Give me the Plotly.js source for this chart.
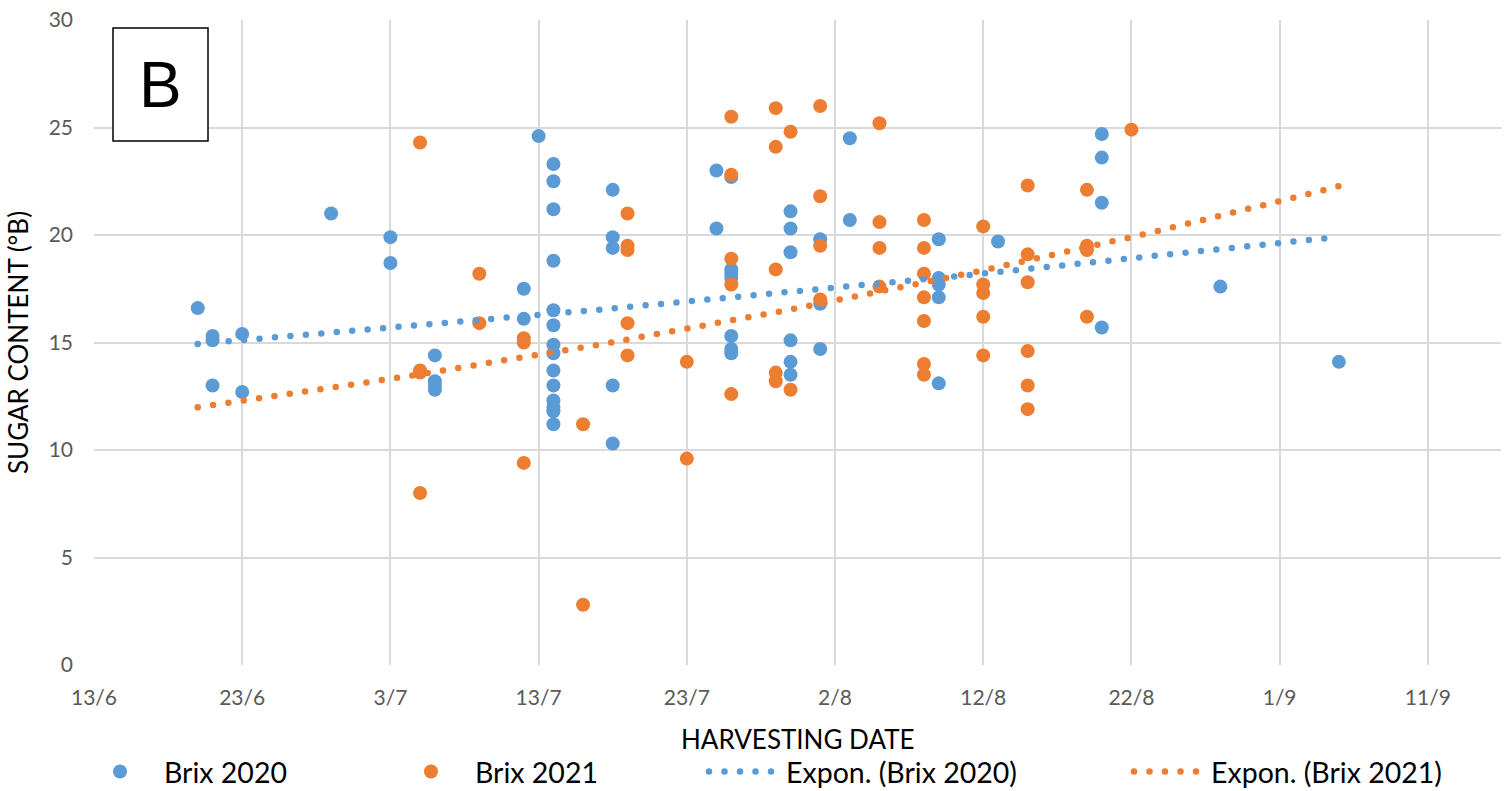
<!DOCTYPE html>
<html><head><meta charset="utf-8">
<script src="https://cdn.plot.ly/plotly-3.0.1.min.js"></script>
<style>
html,body{margin:0;padding:0;background:#fff;}
#chart{width:1512px;height:791px;}
path.js-line{stroke-linecap:round;}
</style></head><body><div id="chart"></div>
<script>
// Harvest dates (day/month) and sugar content (°Brix)
const dates2020 = ['20/6','21/6','21/6','21/6','23/6','23/6','29/6','3/7','3/7',
  '6/7','6/7','6/7','6/7','12/7','12/7','13/7',
  '14/7','14/7','14/7','14/7','14/7','14/7','14/7','14/7','14/7','14/7','14/7','14/7','14/7','14/7',
  '18/7','18/7','18/7','18/7','18/7','25/7','25/7',
  '26/7','26/7','26/7','26/7','26/7','26/7','26/7',
  '30/7','30/7','30/7','30/7','30/7','30/7','1/8','1/8','1/8','3/8','3/8',
  '9/8','9/8','9/8','9/8','9/8','13/8','20/8','20/8','20/8','20/8','28/8','5/9'];
const brix2020 = [16.6,15.3,15.1,13.0,15.4,12.7,21.0,19.9,18.7,
  14.4,13.2,13.0,12.8,17.5,16.1,24.6,
  23.3,22.5,21.2,18.8,16.5,15.8,14.9,14.5,13.7,13.0,12.3,12.0,11.8,11.2,
  22.1,19.9,19.4,13.0,10.3,23.0,20.3,
  22.7,18.4,18.2,18.0,15.3,14.7,14.5,
  21.1,20.3,19.2,15.1,14.1,13.5,19.8,16.8,14.7,24.5,20.7,
  19.8,18.0,17.7,17.1,13.1,19.7,24.7,23.6,21.5,15.7,17.6,14.1];

const dates2021 = ['5/7','5/7','5/7','5/7','9/7','9/7','12/7','12/7','12/7','16/7','16/7',
  '19/7','19/7','19/7','19/7','19/7','23/7','23/7',
  '26/7','26/7','26/7','26/7','26/7','29/7','29/7','29/7','29/7','29/7','30/7','30/7',
  '1/8','1/8','1/8','1/8','5/8','5/8','5/8','5/8',
  '8/8','8/8','8/8','8/8','8/8','8/8','8/8','12/8','12/8','12/8','12/8','12/8',
  '15/8','15/8','15/8','15/8','15/8','15/8','19/8','19/8','19/8','19/8','22/8'];
const brix2021 = [24.3,13.7,13.6,8.0,18.2,15.9,15.2,15.0,9.4,11.2,2.8,
  21.0,19.5,19.3,15.9,14.4,14.1,9.6,
  25.5,22.8,18.9,17.7,12.6,25.9,24.1,18.4,13.6,13.2,24.8,12.8,
  26.0,21.8,19.5,17.0,25.2,20.6,19.4,17.6,
  20.7,19.4,18.2,17.1,16.0,14.0,13.5,20.4,17.7,17.3,16.2,14.4,
  22.3,19.1,17.8,14.6,13.0,11.9,22.1,19.5,19.3,16.2,24.9];

const trendFrom = '20/6';
const trendTo = '5/9';
const seriesNames = ['Brix 2020','Brix 2021','Expon. (Brix 2020)','Expon. (Brix 2021)'];
const colors = ['#5B9BD5','#ED7D31'];

const YEAR = 2020;
function toISO(dm){const [d,m]=dm.split('/').map(Number);return YEAR+'-'+String(m).padStart(2,'0')+'-'+String(d).padStart(2,'0');}
function toDay(dm){return Date.parse(toISO(dm)+'T00:00:00Z')/86400000;}
function dayToISO(day){return new Date(day*86400000).toISOString().slice(0,10);}

// Excel-style exponential trend: least squares on ln(y)
function expFit(ds, ys){
  const xs = ds.map(toDay), ls = ys.map(Math.log), n = xs.length;
  const mx = xs.reduce((a,b)=>a+b,0)/n, ml = ls.reduce((a,b)=>a+b,0)/n;
  let sxy=0,sxx=0; for(let i=0;i<n;i++){sxy+=(xs[i]-mx)*(ls[i]-ml);sxx+=(xs[i]-mx)**2;}
  const b=sxy/sxx, a=ml-b*mx;
  const tx=[],ty=[];
  for(let d=toDay(trendFrom); d<=toDay(trendTo)+1e-9; d+=0.5){tx.push(dayToISO(Math.floor(d))+(d%1? ' 12:00':''));ty.push(Math.exp(a+b*d));}
  return {tx,ty};
}
const t20 = expFit(dates2020, brix2020);
const t21 = expFit(dates2021, brix2021);

const FONT = 'Lato, "Open Sans", sans-serif';
const traces = [
  {x:dates2020.map(toISO), y:brix2020, type:'scatter', mode:'markers', name:seriesNames[0],
   marker:{color:colors[0], size:14, line:{width:0}}},
  {x:dates2021.map(toISO), y:brix2021, type:'scatter', mode:'markers', name:seriesNames[1],
   marker:{color:colors[1], size:14, line:{width:0}}},
  {x:t20.tx, y:t20.ty, type:'scatter', mode:'lines', name:seriesNames[2], legend:'legend2',
   line:{color:colors[0], width:6.5, dash:'0px,15.5px'}},
  {x:t21.tx, y:t21.ty, type:'scatter', mode:'lines', name:seriesNames[3], legend:'legend3',
   line:{color:colors[1], width:6.5, dash:'0px,15.5px'}}
];

const legFont = {family:FONT, size:28.5, color:'#000'};
const legBase = {orientation:'h', xref:'container', yref:'container', y:19/791,
  xanchor:'left', yanchor:'middle', font:legFont, bgcolor:'rgba(0,0,0,0)'};

const layout = {
  width:1512, height:791,
  margin:{l:94, r:11, t:20, b:126, autoexpand:false},
  paper_bgcolor:'#fff', plot_bgcolor:'#fff',
  font:{family:FONT, color:'#000'},
  xaxis:{type:'date', range:[toISO('13/6'), YEAR+'-09-15 22:30'],
    tick0:toISO('13/6'), dtick:864000000, tickformat:'%-d/%-m',
    showgrid:true, gridcolor:'#d9d9d9', gridwidth:2, zeroline:false,
    showline:false, ticks:'', ticklabelstandoff:18,
    tickfont:{family:FONT, size:21, color:'#595959'}},
  yaxis:{range:[0,30], dtick:5, showgrid:true, gridcolor:'#d9d9d9', gridwidth:2,
    zeroline:false, showline:false, ticks:'', ticklabelstandoff:20,
    tickfont:{family:FONT, size:21, color:'#595959'},
    title:{text:'SUGAR CONTENT (°B)', font:{family:FONT, size:26, color:'#000'}, standoff:12}},
  showlegend:true,
  legend:Object.assign({}, legBase, {x:76/1512, itemwidth:78, entrywidth:218, entrywidthmode:'pixels', traceorder:'normal'}),
  legend2:Object.assign({}, legBase, {x:704/1512, itemwidth:72}),
  legend3:Object.assign({}, legBase, {x:1129/1512, itemwidth:72}),
  shapes:[{type:'rect', xref:'paper', yref:'paper', x0:(113-94)/1407, x1:(208-94)/1407,
    y0:(665-141)/645, y1:(665-28)/645, fillcolor:'#fff', line:{color:'#000', width:1.5}, layer:'above'}],
  annotations:[
    {xref:'paper', yref:'paper', x:(160-94)/1407, y:(665-85)/645, text:'B', showarrow:false,
     xanchor:'center', yanchor:'middle', font:{family:'"Liberation Sans", Arial, sans-serif', size:64, color:'#000'}},
    {xref:'paper', yref:'paper', x:0.5, y:(665-739)/645, text:'HARVESTING DATE', showarrow:false,
     xanchor:'center', yanchor:'middle', font:{family:FONT, size:26, color:'#000'}}
  ]
};
Plotly.newPlot('chart', traces, layout, {displayModeBar:false, staticPlot:true});
</script></body></html>
